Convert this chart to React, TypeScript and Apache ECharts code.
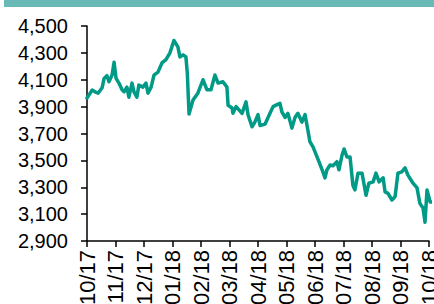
import React, { useEffect, useRef } from "react";
import * as echarts from "echarts";

const monthLabels = ["10/17", "11/17", "12/17", "01/18", "02/18", "03/18", "04/18", "05/18", "06/18", "07/18", "08/18", "09/18", "10/18"];
const yTicks = { min: 2900, max: 4500, step: 200 };

// month index (0 = Oct 2017) and price values
const monthPos = [
  0, 0.18, 0.28, 0.39, 0.53, 0.6, 0.7, 0.77, 0.88, 0.95, 1.02, 1.12, 1.23, 1.3, 1.4, 1.47, 1.58, 1.65, 1.75, 1.82, 1.96, 2.07, 2.14, 2.25, 2.35, 2.49, 2.63, 2.77, 2.91, 3.05, 3.19, 3.26, 3.37, 3.47, 3.52, 3.58, 3.72, 3.89, 4.07, 4.21, 4.35, 4.49, 4.6, 4.77, 4.91, 4.95, 5.09, 5.12, 5.23, 5.44, 5.58, 5.65, 5.79, 5.89, 6.0, 6.07, 6.25, 6.42, 6.53, 6.67, 6.77, 6.84, 6.95, 7.05, 7.19, 7.3, 7.4, 7.54, 7.65, 7.75, 7.82, 7.93, 8.11, 8.25, 8.35, 8.42, 8.53, 8.63, 8.77, 8.84, 8.95, 9.02, 9.12, 9.23, 9.33, 9.4, 9.51, 9.65, 9.79, 9.89, 10.04, 10.14, 10.25, 10.39, 10.46, 10.56, 10.7, 10.81, 10.91, 11.05, 11.16, 11.26, 11.44, 11.58, 11.68, 11.79, 11.86, 11.93, 12.04, 12.1,
];
const prices = [
  3964, 4023, 4010, 4000, 4040, 4110, 4130, 4085, 4135, 4230, 4110, 4075, 4025, 4010, 4045, 3970, 4075, 4010, 3970, 4060, 4045, 4075, 4000, 4045, 4135, 4157, 4225, 4250, 4300, 4392, 4345, 4270, 4285, 4270, 4150, 3845, 3950, 4000, 4100, 4025, 4025, 4135, 4075, 4085, 4045, 3910, 3890, 3850, 3900, 3850, 3935, 3840, 3750, 3785, 3840, 3760, 3770, 3850, 3900, 3915, 3925, 3860, 3820, 3850, 3740, 3820, 3850, 3785, 3840, 3725, 3640, 3600, 3505, 3430, 3370, 3430, 3465, 3460, 3490, 3430, 3540, 3585, 3525, 3525, 3315, 3280, 3405, 3405, 3240, 3330, 3340, 3405, 3340, 3370, 3265, 3255, 3205, 3230, 3405, 3415, 3445, 3390, 3330, 3295, 3180, 3145, 3040, 3280, 3190, 3190,
];

export default function App() {
  const ref = useRef<HTMLDivElement>(null);
  useEffect(() => {
    if (!ref.current) return;
    const chart = echarts.init(ref.current, undefined, { renderer: "svg" });
    const font = "'Liberation Sans', Arial, sans-serif";
    chart.setOption({
      animation: false,
      backgroundColor: "#ffffff",
      graphic: [
        { type: "rect", shape: { x: 4, y: 0, width: 430, height: 7 }, style: { fill: "#69b9b6" }, silent: true },
      ],
      grid: { left: 87, right: 5, top: 26, bottom: 63, containLabel: false, outerBoundsMode: "none" },
      xAxis: {
        type: "value",
        min: 0,
        max: monthLabels.length - 1,
        interval: 1,
        axisLine: { show: true, onZero: false, lineStyle: { color: "#000", width: 1.5 } },
        axisTick: { show: true, length: 6, lineStyle: { color: "#000", width: 1.5 } },
        splitLine: { show: false },
        axisLabel: {
          rotate: 90,
          margin: 9,
          color: "#000",
          fontSize: 22,
          fontFamily: font,
          showMaxLabel: true,
          formatter: (v: number) => monthLabels[Math.round(v)] ?? "",
        },
      },
      yAxis: {
        type: "value",
        min: yTicks.min,
        max: yTicks.max,
        interval: yTicks.step,
        axisLine: { show: true, lineStyle: { color: "#000", width: 1.5 } },
        axisTick: { show: true, length: 6, lineStyle: { color: "#000", width: 1.5 } },
        splitLine: { show: false },
        axisLabel: {
          margin: 19,
          color: "#000",
          fontSize: 20,
          fontFamily: font,
          formatter: (v: number) => v.toLocaleString("en-US"),
        },
      },
      series: [
        {
          type: "line",
          data: monthPos.map((m, i) => [m, prices[i]]),
          showSymbol: false,
          clip: false,
          lineStyle: { color: "#009a86", width: 3.5, join: "round", cap: "round" },
        },
      ],
    });
    return () => chart.dispose();
  }, []);
  return <div ref={ref} style={{ width: 434, height: 304, position: "absolute", left: 0, top: 0 }} />;
}
